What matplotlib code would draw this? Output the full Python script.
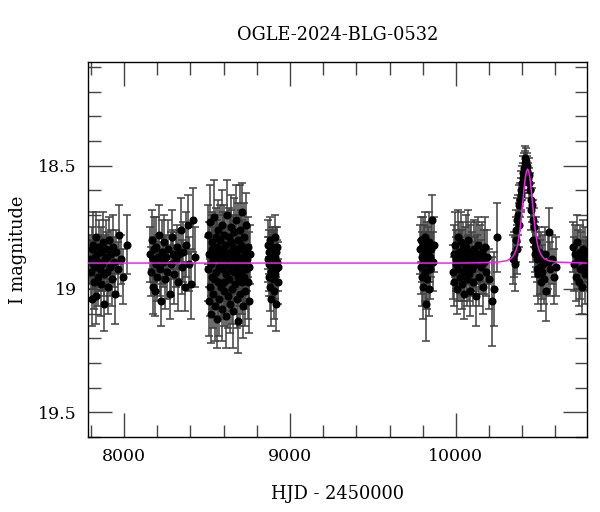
import matplotlib
matplotlib.use("Agg")
import matplotlib.pyplot as plt
from matplotlib.ticker import MultipleLocator

plt.rcParams['font.family'] = ['DejaVu Serif']

title = "OGLE-2024-BLG-0532"
xlabel = "HJD - 2450000"
ylabel = "I magnitude"

# ---- season 1 ----
t1 = [7796, 7801, 7805, 7808, 7812, 7815, 7819, 7823, 7826, 7830,
      7834, 7838, 7842, 7846, 7851, 7855, 7859, 7864, 7868, 7872,
      7877, 7881, 7886, 7890, 7895, 7899, 7904, 7909, 7914, 7920,
      7926, 7932, 7939, 7946, 7953, 7961, 7970, 7982, 7996, 8018]
m1 = [18.88, 18.93, 18.84, 19.04, 18.90, 18.82, 18.97, 18.87, 18.91, 18.79,
      19.03, 18.86, 18.95, 18.89, 18.83, 18.92, 18.98, 18.85, 18.90, 18.81,
      18.94, 19.06, 18.88, 18.84, 18.93, 18.87, 18.99, 18.80, 18.91, 18.86,
      18.96, 18.83, 18.89, 19.02, 18.85, 18.92, 18.78, 18.88, 18.95, 18.82]
e1 = [0.10, 0.12, 0.09, 0.11, 0.10, 0.13, 0.11, 0.09, 0.12, 0.10,
      0.11, 0.08, 0.12, 0.10, 0.11, 0.09, 0.13, 0.10, 0.11, 0.12,
      0.09, 0.11, 0.10, 0.12, 0.13, 0.10, 0.11, 0.09, 0.12, 0.10,
      0.11, 0.13, 0.10, 0.12, 0.09, 0.11, 0.12, 0.10, 0.11, 0.12]

# ---- season 2 ----
t2 = [8158, 8163, 8168, 8172, 8177, 8181, 8186, 8190, 8195, 8200,
      8205, 8211, 8217, 8223, 8229, 8235, 8241, 8248, 8254, 8261,
      8268, 8275, 8282, 8289, 8296, 8303, 8311, 8318, 8326, 8334,
      8342, 8350, 8358, 8366, 8375, 8384, 8393, 8403, 8414, 8425]
m2 = [18.86, 18.93, 18.80, 18.99, 18.88, 18.84, 19.01, 18.90, 18.83, 18.95,
      18.87, 18.78, 18.92, 19.05, 18.85, 18.89, 18.81, 18.96, 18.87, 18.93,
      18.84, 19.02, 18.90, 18.79, 18.86, 18.94, 18.88, 18.83, 18.97, 18.86,
      18.76, 18.91, 18.85, 18.99, 18.82, 18.74, 18.90, 18.98, 18.72, 18.87]
e2 = [0.11, 0.10, 0.12, 0.11, 0.09, 0.13, 0.10, 0.11, 0.12, 0.10,
      0.09, 0.12, 0.11, 0.10, 0.13, 0.10, 0.11, 0.12, 0.09, 0.11,
      0.12, 0.10, 0.13, 0.11, 0.10, 0.12, 0.11, 0.09, 0.12, 0.10,
      0.13, 0.11, 0.12, 0.10, 0.13, 0.12, 0.11, 0.14, 0.13, 0.12]

# ---- season 3 ----
t3 = [8506, 8509, 8511, 8514, 8517, 8519, 8522, 8525, 8528, 8530,
      8533, 8536, 8539, 8541, 8544, 8547, 8550, 8552, 8555, 8558,
      8561, 8563, 8566, 8569, 8572, 8575, 8577, 8580, 8583, 8586,
      8588, 8591, 8594, 8597, 8600, 8602, 8605, 8608, 8611, 8614,
      8616, 8619, 8622, 8625, 8628, 8630, 8633, 8636, 8639, 8642,
      8644, 8647, 8650, 8653, 8656, 8658, 8661, 8664, 8667, 8670,
      8672, 8675, 8678, 8681, 8684, 8686, 8689, 8692, 8695, 8698,
      8700, 8703, 8706, 8709, 8712, 8714, 8717, 8720, 8723, 8726,
      8729, 8732, 8735, 8738, 8741, 8745, 8749, 8753, 8756, 8759]
m3 = [18.92, 18.78, 19.05, 18.86, 18.99, 18.73, 18.90, 19.10, 18.84, 18.95,
      18.81, 19.02, 18.88, 18.71, 18.96, 18.85, 19.07, 18.79, 18.93, 18.87,
      19.12, 18.83, 18.97, 18.76, 18.91, 19.04, 18.86, 18.80, 18.99, 18.89,
      18.74, 19.08, 18.92, 18.84, 18.97, 18.78, 19.01, 18.88, 18.82, 19.11,
      18.94, 18.70, 18.86, 19.03, 18.90, 18.79, 18.96, 18.85, 19.06, 18.81,
      18.92, 18.75, 19.00, 18.87, 18.83, 19.09, 18.93, 18.77, 18.89, 18.98,
      18.72, 18.86, 19.04, 18.91, 18.80, 18.95, 19.13, 18.84, 18.88, 18.76,
      19.02, 18.93, 18.82, 18.97, 18.69, 18.87, 19.07, 18.90, 18.79, 18.95,
      18.85, 19.01, 18.74, 18.92, 18.88, 18.97, 18.83, 18.91, 19.05, 18.86]
e3 = [0.13, 0.12, 0.14, 0.13, 0.12, 0.15, 0.13, 0.12, 0.14, 0.13,
      0.12, 0.14, 0.13, 0.15, 0.12, 0.13, 0.14, 0.12, 0.13, 0.15,
      0.12, 0.13, 0.14, 0.12, 0.13, 0.15, 0.12, 0.14, 0.13, 0.12,
      0.14, 0.13, 0.12, 0.15, 0.13, 0.12, 0.14, 0.13, 0.12, 0.13,
      0.13, 0.14, 0.12, 0.13, 0.15, 0.12, 0.13, 0.14, 0.12, 0.13,
      0.12, 0.13, 0.14, 0.12, 0.13, 0.15, 0.12, 0.14, 0.13, 0.12,
      0.14, 0.13, 0.12, 0.13, 0.15, 0.12, 0.13, 0.14, 0.12, 0.18,
      0.13, 0.12, 0.14, 0.13, 0.12, 0.15, 0.13, 0.12, 0.14, 0.13,
      0.12, 0.14, 0.13, 0.12, 0.13, 0.15, 0.12, 0.14, 0.13, 0.12]

# ---- season 4 ----
t4 = [8868, 8870, 8872, 8874, 8876, 8878, 8880, 8882, 8884, 8886,
      8888, 8890, 8892, 8894, 8896, 8898, 8900, 8902, 8904, 8906,
      8908, 8910, 8912, 8914, 8916, 8918, 8920, 8922, 8925, 8928]
m4 = [18.88, 18.82, 18.95, 18.90, 18.85, 18.99, 18.87, 18.80, 18.93, 18.89,
      19.04, 18.86, 18.91, 18.83, 18.96, 18.88, 18.84, 19.01, 18.90, 18.86,
      18.79, 18.94, 18.87, 18.92, 18.85, 19.06, 18.89, 18.83, 18.91, 18.97]
e4 = [0.09, 0.10, 0.08, 0.11, 0.09, 0.10, 0.08, 0.09, 0.10, 0.09,
      0.11, 0.09, 0.10, 0.08, 0.09, 0.10, 0.09, 0.11, 0.08, 0.10,
      0.09, 0.10, 0.08, 0.09, 0.10, 0.11, 0.09, 0.08, 0.10, 0.09]

# ---- season 5 ----
t5 = [9784, 9787, 9790, 9793, 9796, 9799, 9802, 9805, 9808, 9811,
      9814, 9817, 9820, 9823, 9826, 9829, 9832, 9835, 9838, 9842,
      9846, 9850, 9855, 9860, 9868]
m5 = [18.84, 18.91, 18.80, 18.95, 18.87, 18.82, 18.99, 18.89, 18.85, 18.93,
      18.79, 19.06, 18.88, 18.83, 18.96, 18.86, 18.90, 18.81, 19.00, 18.87,
      18.92, 18.84, 18.72, 18.89, 18.82]
e5 = [0.10, 0.11, 0.09, 0.12, 0.10, 0.11, 0.13, 0.10, 0.11, 0.12,
      0.10, 0.15, 0.11, 0.10, 0.12, 0.11, 0.10, 0.12, 0.11, 0.10,
      0.12, 0.11, 0.10, 0.12, 0.11]

# ---- season 6 ----
t6 = [9983, 9987, 9991, 9995, 9999, 10003, 10007, 10011, 10015, 10019,
      10023, 10027, 10031, 10035, 10039, 10043, 10047, 10051, 10055, 10059,
      10063, 10067, 10071, 10075, 10079, 10083, 10087, 10091, 10095, 10099,
      10104, 10109, 10114, 10119, 10124, 10129, 10134, 10139, 10144, 10150,
      10156, 10162, 10168, 10175, 10182, 10190, 10200, 10215, 10228, 10245]
m6 = [18.93, 18.86, 18.97, 18.82, 18.90, 18.88, 19.00, 18.79, 18.92, 18.85,
      18.95, 18.87, 18.81, 18.98, 18.89, 18.84, 18.93, 19.02, 18.86, 18.91,
      18.83, 18.96, 18.88, 18.80, 18.94, 18.87, 19.01, 18.85, 18.92, 18.89,
      18.97, 18.84, 18.90, 18.86, 19.03, 18.88, 18.82, 18.95, 18.87, 18.91,
      18.85, 18.99, 18.89, 18.83, 18.93, 18.87, 18.96, 19.05, 19.00, 18.79]
e6 = [0.11, 0.12, 0.10, 0.13, 0.11, 0.12, 0.10, 0.11, 0.13, 0.12,
      0.10, 0.11, 0.12, 0.10, 0.13, 0.11, 0.12, 0.10, 0.11, 0.12,
      0.13, 0.11, 0.10, 0.12, 0.11, 0.13, 0.10, 0.12, 0.11, 0.12,
      0.10, 0.12, 0.11, 0.13, 0.12, 0.10, 0.11, 0.12, 0.13, 0.11,
      0.12, 0.11, 0.13, 0.12, 0.10, 0.11, 0.12, 0.18, 0.15, 0.14]

# ---- season 7 (event) ----
t7 = [10345, 10350, 10355, 10360, 10365, 10368, 10371, 10374, 10378, 10382,
      10386, 10390, 10394, 10398, 10402, 10406, 10410, 10414, 10418, 10422,
      10426, 10430, 10434, 10438, 10442, 10446, 10450, 10454, 10458, 10462,
      10466, 10470, 10474, 10478, 10482, 10486, 10490, 10495, 10500, 10505,
      10510, 10515, 10520, 10526, 10532, 10538, 10545, 10552, 10560, 10568,
      10578, 10590, 10604]
m7 = [18.88, 18.86, 18.90, 18.80, 18.76, 18.72, 18.84, 18.70, 18.66, 18.74,
      18.64, 18.60, 18.62, 18.57, 18.55, 18.53, 18.51, 18.49, 18.47, 18.48,
      18.50, 18.52, 18.55, 18.54, 18.57, 18.60, 18.64, 18.68, 18.66, 18.72,
      18.80, 18.75, 18.83, 18.86, 18.81, 18.92, 18.88, 18.94, 18.85, 18.91,
      18.97, 18.87, 18.93, 18.90, 18.96, 18.86, 19.01, 18.89, 18.77, 18.92,
      18.88, 18.95, 18.91]
e7 = [0.10, 0.09, 0.11, 0.09, 0.08, 0.09, 0.10, 0.08, 0.08, 0.09,
      0.07, 0.08, 0.07, 0.07, 0.06, 0.07, 0.06, 0.05, 0.05, 0.05,
      0.05, 0.06, 0.06, 0.07, 0.06, 0.07, 0.07, 0.08, 0.07, 0.08,
      0.09, 0.08, 0.10, 0.09, 0.10, 0.11, 0.09, 0.12, 0.10, 0.11,
      0.12, 0.10, 0.11, 0.12, 0.10, 0.11, 0.12, 0.11, 0.10, 0.11,
      0.10, 0.11, 0.12]

# ---- season 8 ----
t8 = [10706, 10712, 10718, 10724, 10730, 10735, 10740, 10745, 10750, 10755,
      10760, 10765, 10770, 10775, 10780, 10786]
m8 = [18.83, 18.90, 18.86, 18.95, 18.81, 18.88, 18.97, 18.85, 18.92, 18.87,
      18.99, 18.84, 18.91, 18.86, 18.94, 18.89]
e8 = [0.10, 0.11, 0.12, 0.10, 0.11, 0.12, 0.10, 0.11, 0.12, 0.10,
      0.11, 0.12, 0.10, 0.11, 0.12, 0.10]

# ---- model curve ----
model_t = [7783, 10000, 10132, 10252, 10302, 10332, 10347, 10362, 10372, 10382,
           10387, 10392, 10397, 10402, 10407, 10412, 10417, 10422, 10427, 10432,
           10437, 10442, 10447, 10452, 10457, 10462, 10467, 10472, 10477, 10482,
           10492, 10502, 10517, 10532, 10562, 10612, 10732, 10790]
model_m = [18.895, 18.895, 18.894, 18.891, 18.886, 18.877, 18.865, 18.845, 18.82, 18.78,
           18.755, 18.725, 18.69, 18.655, 18.62, 18.585, 18.555, 18.535, 18.52, 18.514,
           18.52, 18.535, 18.555, 18.585, 18.62, 18.655, 18.69, 18.725, 18.755, 18.78,
           18.82, 18.845, 18.865, 18.877, 18.886, 18.891, 18.894, 18.895]

seasons = [(t1, m1, e1), (t2, m2, e2), (t3, m3, e3), (t4, m4, e4),
           (t5, m5, e5), (t6, m6, e6), (t7, m7, e7), (t8, m8, e8)]

fig = plt.figure(figsize=(6.0, 5.12), dpi=100)
ax = fig.add_axes([88/600, 75/512, (587-88)/600, (437-62)/512])

for t, m, e in seasons:
    ax.errorbar(t, m, yerr=e, fmt='o', color='black', markersize=4.8,
                ecolor='#404040', elinewidth=1.1, capsize=2.8, capthick=1.1,
                zorder=2)

ax.plot(model_t, model_m, color='#ee22ee', linewidth=1.1, zorder=5)

ax.set_xlim(7783, 10790)
ax.set_ylim(19.6, 18.08)

ax.xaxis.set_major_locator(MultipleLocator(1000))
ax.xaxis.set_minor_locator(MultipleLocator(200))
ax.yaxis.set_minor_locator(MultipleLocator(0.1))
ax.set_yticks([18.5, 19.0, 19.5])
ax.set_yticklabels(['18.5', '19', '19.5'])

ax.tick_params(which='both', direction='in', top=True, right=True,
               labelsize=12.5, color='#444444')
ax.tick_params(which='major', length=17, width=1.0, pad=8)
ax.tick_params(which='minor', length=9, width=1.0)
for sp in ax.spines.values():
    sp.set_linewidth(1.0)

fig.text(0.5 * (88 + 587) / 600, 1 - 35/512, title, ha='center', va='center',
         fontsize=12.8)
ax.set_xlabel(xlabel, fontsize=12.8, labelpad=14)
ax.set_ylabel(ylabel, fontsize=12.8, labelpad=8)

fig.savefig('out.png', dpi=100)
